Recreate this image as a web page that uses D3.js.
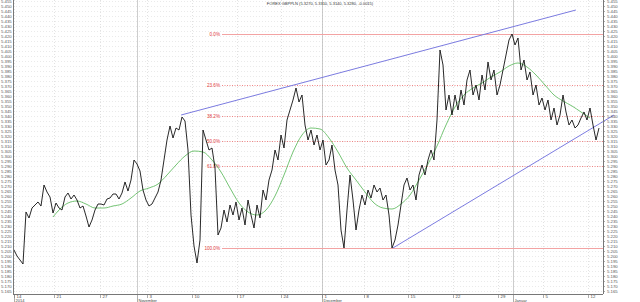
<!DOCTYPE html>
<html>
<head>
<meta charset="utf-8">
<style>
  body { margin: 0; background: #fff; }
  svg { display: block; font-family: "Liberation Sans", Arial, sans-serif; }
</style>
</head>
<body>
<svg id="chart" width="640" height="302"></svg>
<script src="https://cdn.jsdelivr.net/npm/d3@7"></script>
<script>
// GBPPLN closes, one per bar
let price = [5.206,5.200,5.196,5.192,5.244,5.238,5.248,5.251,5.254,5.250,
  5.271,5.264,5.259,5.243,5.253,5.248,5.246,5.259,5.263,5.257,
  5.261,5.256,5.248,5.250,5.240,5.229,5.236,5.246,5.252,5.252,
  5.251,5.257,5.258,5.262,5.262,5.257,5.263,5.274,5.265,5.276,
  5.296,5.292,5.285,5.266,5.256,5.250,5.252,5.258,5.264,5.276,
  5.296,5.316,5.330,5.318,5.328,5.326,5.339,5.335,5.306,5.241,
  5.210,5.193,5.216,5.326,5.316,5.306,5.308,5.288,5.221,5.228,
  5.246,5.234,5.251,5.241,5.254,5.236,5.248,5.231,5.256,5.241,
  5.228,5.251,5.238,5.266,5.256,5.276,5.286,5.306,5.296,5.321,
  5.308,5.336,5.346,5.356,5.368,5.354,5.361,5.331,5.316,5.326,
  5.311,5.321,5.306,5.316,5.291,5.296,5.311,5.286,5.271,5.226,
  5.208,5.246,5.281,5.256,5.226,5.246,5.261,5.251,5.266,5.258,
  5.271,5.264,5.268,5.256,5.261,5.241,5.208,5.216,5.231,5.251,
  5.271,5.278,5.266,5.271,5.256,5.281,5.291,5.281,5.296,5.306,
  5.296,5.336,5.406,5.391,5.346,5.361,5.341,5.361,5.346,5.366,
  5.351,5.376,5.386,5.361,5.371,5.356,5.381,5.366,5.394,5.376,
  5.386,5.361,5.371,5.386,5.401,5.416,5.422,5.411,5.418,5.386,
  5.396,5.376,5.384,5.361,5.371,5.351,5.358,5.346,5.356,5.336,
  5.348,5.331,5.341,5.361,5.344,5.331,5.336,5.328,5.331,5.338,
  5.344,5.336,5.348,5.331,5.316,5.328]

// moving average, read at every third bar
let maBars = [13,15,18,21,24,27,30,33,36,39,42,45,48,51,54,57,60,63,66,69,72,75,78,81,84,87,90,93,96,99,
  102,105,108,111,114,117,120,123,126,129,132,135,138,141,144,147,150,153,156,159,162,165,168,171,174,177,180,183,186,189,192]
let maValues = [5.239,5.246,5.253,5.255,5.252,5.248,5.248,5.250,5.252,5.258,5.265,5.268,5.272,5.281,5.291,5.300,5.305,5.304,5.296,5.284,
  5.268,5.253,5.244,5.241,5.246,5.260,5.281,5.304,5.321,5.328,5.327,5.318,5.304,5.288,5.276,5.264,5.253,5.248,5.247,5.252,
  5.261,5.276,5.292,5.310,5.331,5.349,5.361,5.368,5.373,5.379,5.384,5.390,5.393,5.389,5.381,5.371,5.361,5.355,5.350,5.344,5.338]

// x axis
let weekBars = [0,13.3,28.7,44.3,59.3,74.3,89,102.7,116.7,131.3,146.3,161.3,176.3,191.3]
let weekLabels = ["14","21","27","3","10","17","24","1","8","15","22","29","5","12"]
let monthBars = [0,41,102.7,166.3]
let monthLabels = ["2014","November","December","Januar"]

// fibonacci retracement (high, low) and trend lines
let fibHigh = 5.422, fibLow = 5.208
let fibRatios = [0, 23.6, 38.2, 50, 61.8, 100]
let trendUpper = [[55.7, 5.341], [187.3, 5.446]]
let trendLower = [[126.3, 5.208], [200, 5.341]]

let title = "FOREX GBPPLN (5.3270, 5.3310, 5.3140, 5.3280, -0.0015)"

let svg = d3.select("#chart")
let plotL = 13, plotR = 603, plotT = 0, plotB = 294

let x = d3.scaleLinear().domain([0, price.length - 1]).range([14, 599])
let y = d3.scaleLinear().domain([5.165, 5.455]).range([291, 1])

let yTicks = d3.range(1033, 1092).map(d => d * 0.005)

// grid
let grid = svg.append("g")
grid.selectAll(".hg").data(yTicks).enter().append("line")
  .attr("x1", plotL).attr("x2", plotR)
  .attr("y1", d => Math.round(y(d)) + 0.5).attr("y2", d => Math.round(y(d)) + 0.5)
  .attr("stroke", "#dcdcdc").attr("stroke-width", 0.6).attr("stroke-dasharray", "1,2")
grid.selectAll(".vg").data(weekBars).enter().append("line")
  .attr("x1", d => Math.round(x(d)) + 0.5).attr("x2", d => Math.round(x(d)) + 0.5)
  .attr("y1", plotT).attr("y2", plotB)
  .attr("stroke", "#cfcfcf").attr("stroke-width", 0.6).attr("stroke-dasharray", "1,2")
grid.selectAll(".mg").data(monthBars.slice(1)).enter().append("line")
  .attr("x1", d => Math.round(x(d)) + 0.5).attr("x2", d => Math.round(x(d)) + 0.5)
  .attr("y1", plotT).attr("y2", plotB)
  .attr("stroke", "#b8b8b8").attr("stroke-width", 0.7)

// fib levels
let fib = svg.append("g")
fibRatios.forEach(r => {
  let v = fibHigh - (fibHigh - fibLow) * r / 100
  let yy = Math.round(y(v)) + 0.5
  let solid = (r == 0 || r == 100)
  fib.append("line")
    .attr("x1", 222).attr("x2", plotR).attr("y1", yy).attr("y2", yy)
    .attr("stroke", solid ? "#f3a3a3" : "#ee6a6a")
    .attr("stroke-width", solid ? 1 : 0.8)
    .attr("stroke-dasharray", solid ? null : "1,1.5")
  fib.append("text")
    .attr("x", 220).attr("y", yy + 1.7)
    .attr("text-anchor", "end")
    .attr("font-size", 4.6).attr("fill", "#e03c3c")
    .text(r.toFixed(1) + "%")
})

// trend lines
let trend = svg.append("g")
;[trendUpper, trendLower].forEach(t => {
  trend.append("line")
    .attr("x1", x(t[0][0])).attr("y1", y(t[0][1]))
    .attr("x2", x(t[1][0])).attr("y2", y(t[1][1]))
    .attr("stroke", "#7b7be0").attr("stroke-width", 1)
})

// moving average
let maLine = d3.line()
  .x((d, i) => x(maBars[i]))
  .y(d => y(d))
  .curve(d3.curveMonotoneX)
svg.append("path")
  .attr("d", maLine(maValues))
  .attr("fill", "none").attr("stroke", "#52b552").attr("stroke-width", 0.8)

// price
let priceLine = d3.line()
  .x((d, i) => x(i))
  .y(d => y(d))
svg.append("path")
  .attr("d", priceLine(price))
  .attr("fill", "none").attr("stroke", "#111").attr("stroke-width", 0.9)
  .attr("stroke-linejoin", "round")

// axes
let axes = svg.append("g")
axes.append("line").attr("x1", plotL + 0.5).attr("x2", plotL + 0.5).attr("y1", plotT).attr("y2", plotB)
  .attr("stroke", "#777").attr("stroke-width", 1)
axes.append("line").attr("x1", plotR + 0.5).attr("x2", plotR + 0.5).attr("y1", plotT).attr("y2", plotB)
  .attr("stroke", "#777").attr("stroke-width", 1)
axes.append("line").attr("x1", plotL).attr("x2", plotR).attr("y1", plotB + 0.5).attr("y2", plotB + 0.5)
  .attr("stroke", "#777").attr("stroke-width", 1)

let yLab = axes.append("g")
yTicks.forEach(v => {
  let yy = Math.round(y(v)) + 0.5
  yLab.append("line").attr("x1", plotR).attr("x2", plotR + 2).attr("y1", yy).attr("y2", yy)
    .attr("stroke", "#777").attr("stroke-width", 0.6)
  yLab.append("text").attr("x", 607).attr("y", yy + 1.6)
    .attr("font-size", 4.3).attr("fill", "#555").text(v.toFixed(3))
  yLab.append("text").attr("x", 1).attr("y", yy + 1.6)
    .attr("font-size", 4.3).attr("fill", "#555").text(v.toFixed(3))
})

let xLab = axes.append("g")
weekBars.forEach((b, i) => {
  let xx = Math.round(x(b)) + 0.5
  xLab.append("line").attr("x1", xx).attr("x2", xx).attr("y1", plotB).attr("y2", 298)
    .attr("stroke", "#777").attr("stroke-width", 0.6)
  xLab.append("text").attr("x", xx + 2).attr("y", 297.6)
    .attr("font-size", 4.3).attr("fill", "#444").text(weekLabels[i])
})
monthBars.forEach((b, i) => {
  let xx = Math.round(x(b)) + 0.5
  xLab.append("line").attr("x1", xx).attr("x2", xx).attr("y1", plotB).attr("y2", 302)
    .attr("stroke", "#777").attr("stroke-width", 0.6)
  xLab.append("text").attr("x", xx + 1).attr("y", 301.6)
    .attr("font-size", 4).attr("fill", "#444").text(monthLabels[i])
})

svg.append("text").attr("x", 320).attr("y", 5.2).attr("text-anchor", "middle")
  .attr("font-size", 4).attr("fill", "#333").text(title)
</script>
</body>
</html>
